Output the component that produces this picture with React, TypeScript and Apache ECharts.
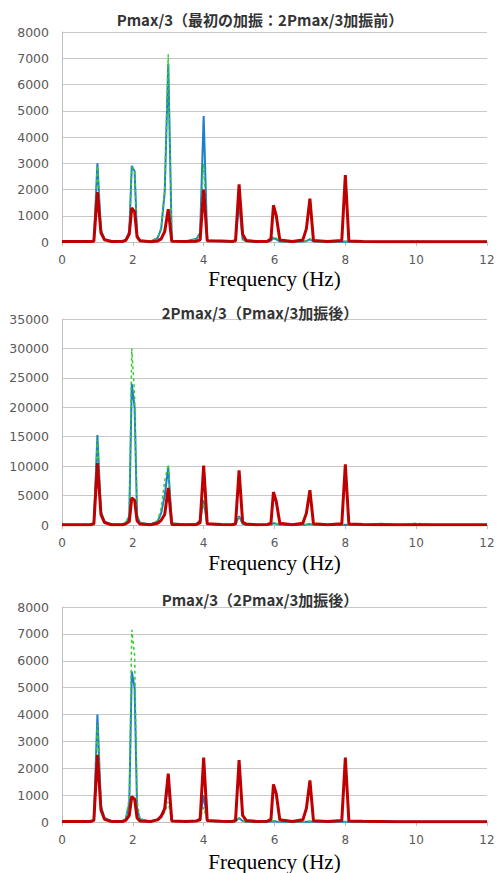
import React, { useEffect, useRef } from "react";
import * as echarts from "echarts";

// Frequency sample points (Hz), shared by all series
const freqHz = [
  0, 0.8, 0.9, 1.0, 1.1, 1.2, 1.4, 1.7, 1.8, 1.9, 1.97, 2.05, 2.12, 2.2, 2.5, 2.7, 2.8, 2.9, 3.0, 3.1,
  3.5, 3.8, 3.9, 4.0, 4.1, 4.5, 4.8, 4.9, 5.0, 5.1, 5.2, 5.5, 5.8, 5.9, 5.97, 6.05, 6.15, 6.5, 6.8, 6.9,
  7.0, 7.1, 7.5, 7.9, 8.0, 8.1, 8.5, 9.0, 9.5, 10.0, 10.5, 12.0,
];

const chartTitles = [
  "Pmax/3（最初の加振：2Pmax/3加振前）",
  "2Pmax/3（Pmax/3加振後）",
  "Pmax/3（2Pmax/3加振後）",
];
const xAxisName = "Frequency (Hz)";
const yMax = [8000, 35000, 8000];
const yStep = [1000, 5000, 1000];

// Chart 1
const c1Red = [
  20, 20, 30, 1900, 350, 80, 20, 20, 60, 300, 1300, 1150, 200, 50, 10, 40, 120, 400, 1250, 30,
  20, 30, 80, 2000, 50, 40, 20, 50, 2200, 300, 60, 20, 30, 120, 1400, 1000, 80, 20, 80, 500,
  1650, 60, 20, 60, 2550, 40, 20, 10, 10, 10, 10, 10,
];
const c1Blue = [
  20, 20, 60, 3000, 450, 120, 30, 20, 80, 400, 2900, 2700, 250, 60, 20, 150, 500, 1900, 6800, 50,
  30, 120, 350, 4800, 60, 30, 20, 60, 1500, 100, 30, 10, 20, 50, 150, 100, 20, 10, 20, 40,
  100, 20, 10, 10, 20, 10, 10, 10, 10, 10, 10, 10,
];
const c1Green = [
  20, 20, 50, 2900, 400, 100, 30, 20, 80, 380, 2850, 2750, 230, 60, 20, 170, 550, 2000, 7150, 50,
  30, 110, 300, 3000, 60, 30, 20, 60, 1650, 100, 30, 10, 20, 60, 220, 150, 20, 10, 20, 50,
  130, 20, 10, 10, 20, 10, 10, 10, 10, 40, 10, 10,
];

// Chart 2
const c2Red = [
  50, 50, 200, 10500, 1800, 400, 50, 50, 200, 600, 4600, 4200, 700, 150, 50, 300, 800, 1800, 6300, 100,
  50, 100, 400, 10100, 200, 100, 50, 200, 9300, 500, 150, 50, 100, 300, 5600, 4000, 300, 50, 300, 2000,
  5900, 200, 50, 200, 10300, 150, 80, 50, 30, 30, 30, 30,
];
const c2Blue = [
  50, 50, 300, 15300, 2200, 600, 80, 100, 300, 1500, 24000, 20000, 1500, 400, 100, 600, 2000, 5000, 9800, 300,
  80, 200, 800, 4200, 200, 50, 50, 150, 1500, 200, 50, 30, 30, 80, 300, 200, 50, 20, 30, 80,
  150, 30, 20, 20, 50, 20, 20, 200, 20, 100, 20, 20,
];
const c2Green = [
  50, 50, 300, 14500, 2000, 550, 80, 100, 300, 1800, 30000, 22000, 1800, 400, 100, 800, 2800, 7500, 10300, 300,
  80, 200, 700, 3800, 200, 50, 50, 150, 1300, 200, 50, 30, 30, 80, 300, 200, 50, 20, 30, 80,
  150, 30, 20, 20, 50, 20, 20, 150, 20, 300, 20, 20,
];

// Chart 3
const c3Red = [
  20, 20, 60, 2500, 450, 100, 20, 20, 60, 250, 950, 850, 150, 40, 20, 80, 200, 500, 1800, 40,
  20, 40, 80, 2400, 60, 30, 20, 60, 2300, 250, 60, 20, 30, 100, 1400, 1050, 80, 20, 80, 500,
  1550, 50, 20, 60, 2400, 40, 30, 20, 10, 10, 10, 10,
];
const c3Blue = [
  20, 20, 80, 4000, 600, 150, 30, 20, 100, 700, 5600, 5000, 500, 100, 20, 100, 250, 500, 1450, 40,
  20, 50, 150, 1000, 40, 20, 10, 30, 150, 40, 10, 10, 10, 20, 30, 20, 10, 10, 10, 10,
  20, 10, 10, 10, 10, 10, 10, 10, 10, 10, 10, 10,
];
const c3Green = [
  20, 20, 70, 3600, 550, 130, 30, 20, 120, 900, 7150, 6200, 800, 120, 20, 80, 200, 350, 750, 40,
  20, 40, 120, 550, 40, 20, 10, 30, 150, 40, 10, 10, 10, 20, 40, 30, 10, 10, 10, 10,
  30, 10, 10, 10, 10, 10, 10, 10, 10, 10, 10, 10,
];

const redSets = [c1Red, c2Red, c3Red];
const blueSets = [c1Blue, c2Blue, c3Blue];
const greenSets = [c1Green, c2Green, c3Green];

const gridTops = [32, 319, 607];
const gridHeights = [210, 206, 215];
const titleTops = [7, 300, 587];
const nameGaps = [26, 27, 29];

export default function App() {
  const ref = useRef<HTMLDivElement>(null);
  useEffect(() => {
    if (!ref.current) return;
    const chart = echarts.init(ref.current, null, { renderer: "svg" });
    const pair = (vals: number[]) => freqHz.map((f, i) => [f, vals[i]]);
    const grids = gridTops.map((t, i) => ({ left: 62, right: 11, top: t, height: gridHeights[i] }));
    const xAxes = gridTops.map((_, i) => ({
      type: "value",
      gridIndex: i,
      min: 0,
      max: 12,
      interval: 2,
      name: xAxisName,
      nameLocation: "middle",
      nameGap: nameGaps[i],
      nameTextStyle: { fontFamily: "Liberation Serif", fontSize: 21, color: "#000" },
      axisLine: { show: true, lineStyle: { color: "#BFBFBF", width: 1 } },
      axisTick: { show: true, length: 4, lineStyle: { color: "#BFBFBF" } },
      axisLabel: { margin: 12, fontFamily: "DejaVu Sans", fontSize: 12, color: "#595959" },
      splitLine: { show: false },
    }));
    const yAxes = gridTops.map((_, i) => ({
      type: "value",
      gridIndex: i,
      min: 0,
      max: yMax[i],
      interval: yStep[i],
      axisLine: { show: true, lineStyle: { color: "#BFBFBF", width: 1 } },
      axisTick: { show: false },
      axisLabel: {
        margin: 13,
        fontFamily: "DejaVu Sans",
        fontSize: 12.5,
        color: "#595959",
        formatter: (v: number) => String(v),
      },
      splitLine: { show: true, lineStyle: { color: "#C8C8C8", width: 1 } },
    }));
    const series: any[] = [];
    for (let i = 0; i < 3; i++) {
      series.push({
        type: "line", xAxisIndex: i, yAxisIndex: i, data: pair(blueSets[i]), showSymbol: false,
        lineStyle: { color: "#1E7EC8", width: 2 }, z: 2,
      });
      series.push({
        type: "line", xAxisIndex: i, yAxisIndex: i, data: pair(greenSets[i]), showSymbol: false,
        lineStyle: { color: "#33CC33", width: 1.5, type: [3, 3] }, z: 3,
      });
      series.push({
        type: "line", xAxisIndex: i, yAxisIndex: i, data: pair(redSets[i]), showSymbol: false,
        lineStyle: { color: "#C00000", width: 3 }, z: 4,
      });
    }
    chart.setOption({
      animation: false,
      backgroundColor: "#fff",
      title: chartTitles.map((t, i) => ({
        text: t,
        left: 255,
        top: titleTops[i],
        textAlign: "center",
        textStyle: { fontFamily: "Noto Sans CJK JP", fontSize: 15, fontWeight: "bold", color: "#333" },
      })),
      grid: grids,
      xAxis: xAxes,
      yAxis: yAxes,
      series,
    });
    return () => chart.dispose();
  }, []);
  return (
    <div
      ref={ref}
      style={{ position: "fixed", left: 0, top: 0, width: 498, height: 873, background: "#fff" }}
    />
  );
}
